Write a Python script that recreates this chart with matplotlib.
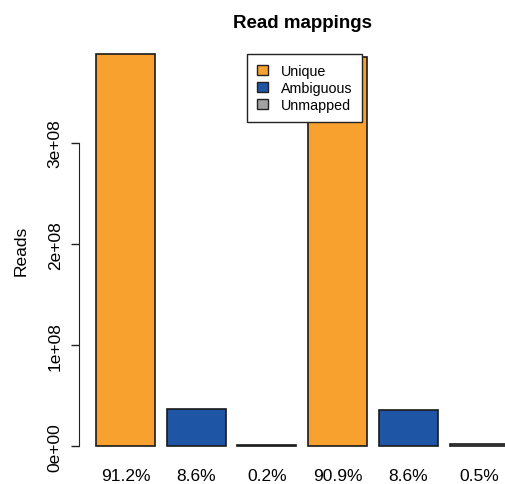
import matplotlib.pyplot as plt

plt.rcParams['font.family'] = ['Liberation Sans', 'DejaVu Sans']

# read counts per class for the two samples
categories = ['Unique', 'Ambiguous', 'Unmapped']
sample1 = [3.88e8, 3.66e7, 8.5e5]
sample2 = [3.85e8, 3.64e7, 2.1e6]
pct_labels = ['91.2%', '8.6%', '0.2%', '90.9%', '8.6%', '0.5%']
colors = ['#F9A12F', '#1F55A5', '#A3A3A3']

values = sample1 + sample2
bar_colors = colors * 2
# R barplot layout: width 1, space 0.2
xpos = [0.7 + 1.2 * i for i in range(len(values))]

fig = plt.figure(figsize=(5.06, 4.85), dpi=100)
ax = fig.add_axes([0.157, 0.0454, 0.881, 0.8732])

ax.bar(xpos, values, width=1.0, color=bar_colors, edgecolor='#1a1a1a', linewidth=1.2)
ax.set_xlim(-0.08, 7.48)
ax.set_ylim(-0.155e8, 4.035e8)

# y axis R style: line only over tick range, labels parallel to axis
for s in ['top', 'right', 'bottom']:
    ax.spines[s].set_visible(False)
ax.spines['left'].set_bounds(0, 3e8)
ax.spines['left'].set_color('#222222')
yt = [0, 1e8, 2e8, 3e8]
ax.set_yticks(yt)
ax.set_yticklabels(['0e+00', '1e+08', '2e+08', '3e+08'], rotation=90, va='center', fontsize=12.5)
ax.tick_params(axis='y', length=6, width=1, color='#222222', pad=6)

ax.set_xticks(xpos)
ax.set_xticklabels(pct_labels, fontsize=12.5)
ax.tick_params(axis='x', length=0, pad=4)

ax.set_ylabel('Reads', fontsize=12.5, labelpad=14)
ax.set_title('Read mappings', fontsize=13.5, fontweight='bold', pad=8)

handles = [plt.Rectangle((0, 0), 1, 1, facecolor=c, edgecolor='#222222', linewidth=1) for c in colors]
leg = ax.legend(handles, categories, loc='upper left', bbox_to_anchor=(0.3756, 0.963),
                borderaxespad=0, fontsize=10.3, frameon=True, fancybox=False, framealpha=1,
                handlelength=0.75, handleheight=0.75, handletextpad=0.9,
                labelspacing=0.2, borderpad=0.7)
leg.get_frame().set_edgecolor('#222222')
leg.get_frame().set_linewidth(1)

fig.savefig('out.png', dpi=100)
